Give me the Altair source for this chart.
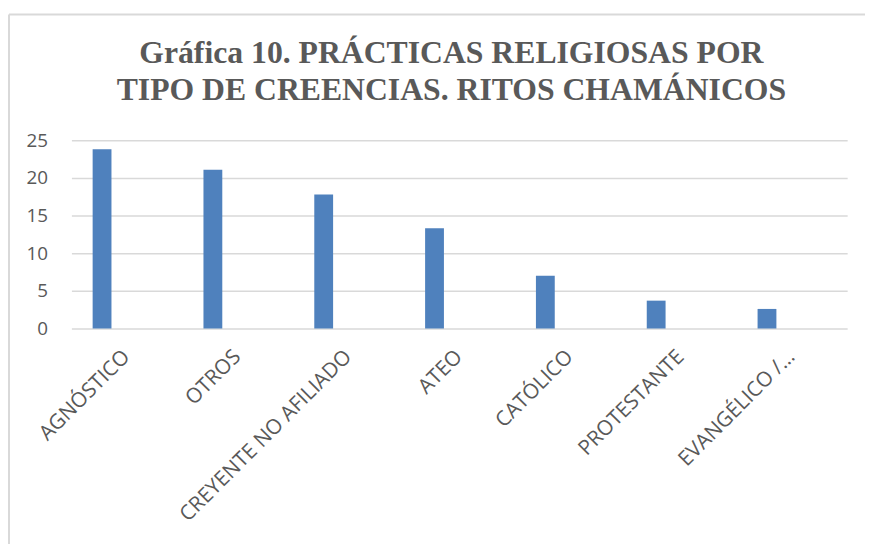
import altair as alt
import pandas as pd

categories = ["AGNÓSTICO", "OTROS", "CREYENTE NO AFILIADO", "ATEO", "CATÓLICO", "PROTESTANTE", "EVANGÉLICO /…"]
values = [23.8, 21.1, 17.8, 13.3, 7.0, 3.7, 2.6]
y_ticks = [0, 5, 10, 15, 20, 25]

df = pd.DataFrame({"cat": categories, "val": values})

GRAY = "#595959"
GRID = "#d9d9d9"
LABEL_FONT = "Open Sans"

bars = alt.Chart(df).mark_bar(width=19, xOffset=-25, color="#4F81BD").encode(
    x=alt.X("cat:N", sort=categories, title=None,
            scale=alt.Scale(paddingInner=0, paddingOuter=0),
            axis=alt.Axis(labelAngle=-45, labelAlign="right", labelBaseline="middle",
                          labelPadding=25, ticks=False, domain=False,
                          labelFont=LABEL_FONT, labelFontSize=21, labelColor=GRAY,
                          labelLimit=400)),
    y=alt.Y("val:Q", title=None,
            scale=alt.Scale(domain=[0, 25], nice=False),
            axis=alt.Axis(values=y_ticks, ticks=False, domain=False, grid=True,
                          gridColor=GRID, gridWidth=1.5, labelPadding=24,
                          labelFont=LABEL_FONT, labelFontSize=19, labelColor=GRAY)),
)

frame_data = alt.Data(values=[{"k": 1}])
left_border = alt.Chart(frame_data).mark_rule(color=GRID, strokeWidth=2).encode(
    x=alt.value(-63), y=alt.value(-127), y2=alt.value(420))
top_border = alt.Chart(frame_data).mark_rule(color=GRID, strokeWidth=2).encode(
    x=alt.value(-63), x2=alt.value(820), y=alt.value(-127))

chart = alt.layer(bars, left_border, top_border).properties(
    width=783, height=190,
    title=alt.TitleParams(
        ["Gráfica 10. PRÁCTICAS RELIGIOSAS POR", "TIPO DE CREENCIAS. RITOS CHAMÁNICOS"],
        font="Liberation Serif, Times New Roman, DejaVu Serif, serif", fontSize=32,
        fontWeight="bold", color=GRAY,
        lineHeight=37, anchor="middle", frame="group", offset=-94, dx=-8),
    autosize=alt.AutoSizeParams(type="none"),
    padding={"left": 64, "top": 131, "right": 18, "bottom": 215},
).configure(background="white", view=alt.ViewConfig(stroke=None))

chart.save("out.html", embed_options={"renderer": "svg", "actions": False})
